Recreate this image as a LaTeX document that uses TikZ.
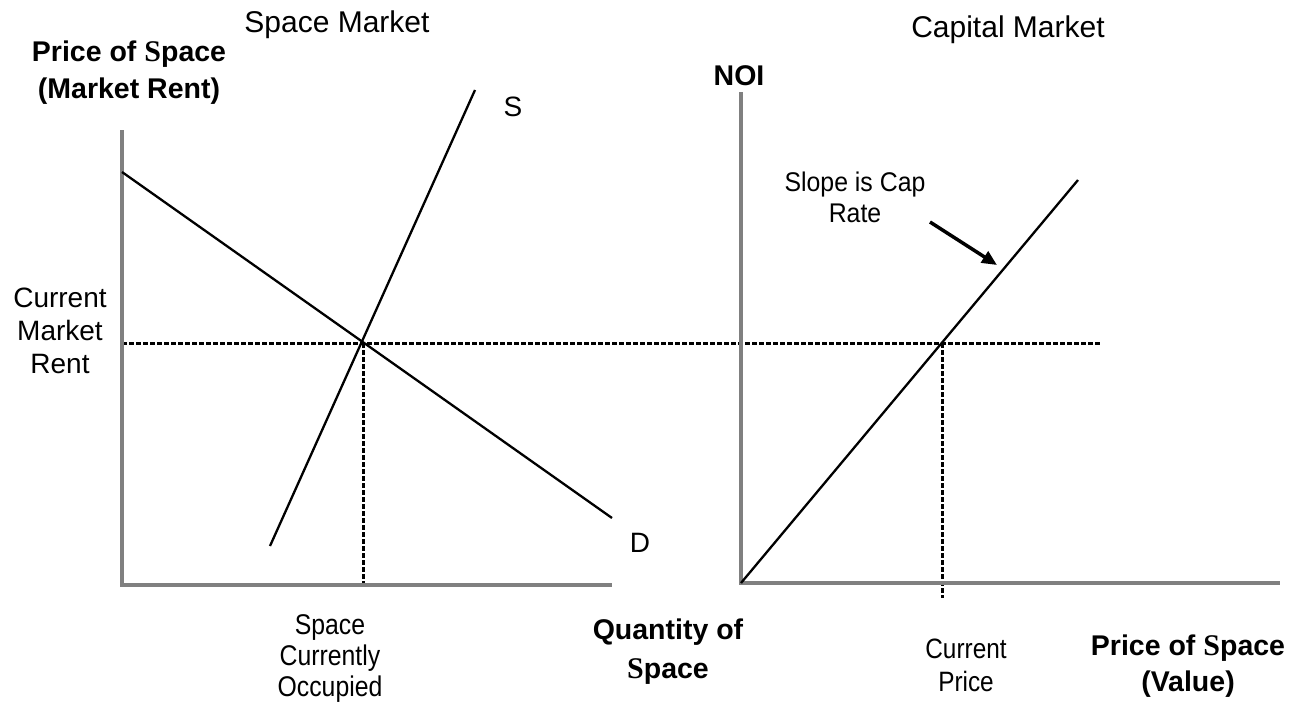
\documentclass[tikz,border=0pt]{standalone}
\usepackage{fontspec}
\setmainfont{Liberation Sans}
\newfontfamily\condfont[FakeStretch=0.87]{Liberation Sans}
\newfontfamily\slopefont[FakeStretch=0.92]{Liberation Sans}
\newfontfamily\serifbold{Liberation Serif}
\newcommand{\bS}{{\serifbold\bfseries\fontsize{30}{30}\selectfont S}}
\usetikzlibrary{arrows.meta}
\definecolor{axisgray}{RGB}{128,128,128}
\begin{document}
\begin{tikzpicture}[x=1pt,y=-1pt,
  axisline/.style={draw=axisgray, line width=4.5pt, line join=miter},
  curve/.style={draw=black, line width=2.3pt},
  guide/.style={draw=black, line width=3pt, dash pattern=on 4.5pt off 2.5pt},
  lbl/.style={align=center, inner sep=0pt, font=\fontsize{30}{34}\selectfont},
  blbl/.style={align=center, inner sep=0pt, font=\fontsize{28.5}{37}\selectfont\bfseries},
  clbl/.style={align=center, inner sep=0pt, font=\fontsize{28.5}{31}\selectfont\condfont},
  pointer/.style={draw=black, line width=3.5pt, -{Triangle[length=15pt,width=13pt]}}
]
\useasboundingbox (0,0) rectangle (1293,704);

% coordinates
\coordinate (LT) at (122,130);
\coordinate (LO) at (122,585);
\coordinate (LR) at (612,585);
\coordinate (RT) at (741,92);
\coordinate (RO) at (741,583);
\coordinate (RR) at (1280,583);
\coordinate (D1) at (122,172);
\coordinate (D2) at (612,518);
\coordinate (S1) at (270,546);
\coordinate (S2) at (475,90);
\coordinate (EQ) at (363,343);
\coordinate (EQb) at (363,585);
\coordinate (HR) at (1100,343);
\coordinate (V2) at (1078,180);
\coordinate (CP) at (942,343);
\coordinate (CPb) at (942,598);
\coordinate (A1) at (930,222);
\coordinate (A2) at (997,265);

% dotted guides
\path[guide] (LO |- EQ) -- (HR);
\path[guide] (EQ) -- (EQb);
\path[guide] (CP) -- (CPb);

% axes
\path[axisline] (LT) -- (LO) -- (LR);
\path[axisline] (RT) -- (RO) -- (RR);

% curves
\path[curve] (D1) -- (D2);
\path[curve] (S1) -- (S2);
\path[curve] (RO) -- (V2);
\path[pointer] (A1) -- (A2);

% labels
\node[lbl] (tsm) at (337,25) {Space Market};
\node[lbl] (tcm) at (1008,30) {Capital Market};
\node[blbl] (ty1) at (129,73) {Price of \bS pace\\(Market Rent)};
\node[blbl] (ty2) at (739,76) {NOI};
\node[lbl, font=\fontsize{28}{32}\selectfont] (tS) at (513,107) {S};
\node[lbl, font=\fontsize{28}{32}\selectfont] (tD) at (640,543) {D};
\node[lbl, font=\fontsize{28}{33}\selectfont] (tcmr) at (60,331) {Current\\Market\\Rent};
\node[align=center, inner sep=0pt, font=\fontsize{27}{31}\selectfont\slopefont] (tslope) at (855,197) {Slope is Cap\\Rate};
\node[clbl] (tsco) at (330,658) {Space\\Currently\\Occupied};
\node[blbl, font=\fontsize{28.5}{39}\selectfont\bfseries] (tqs) at (668,652) {Quantity of\\\bS pace};
\node[clbl, font=\fontsize{28}{33}\selectfont\condfont] (tcp) at (966,665) {Current\\Price};
\node[blbl, font=\fontsize{28.5}{36}\selectfont\bfseries] (tps) at (1188,666) {Price of \bS pace\\(Value)};
\end{tikzpicture}
\end{document}
